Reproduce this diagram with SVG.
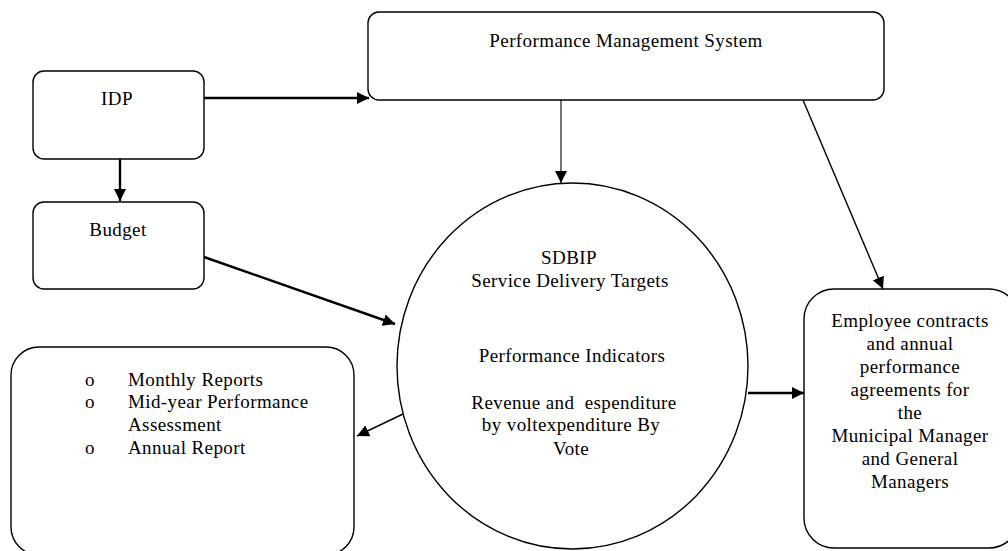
<svg xmlns="http://www.w3.org/2000/svg" width="1008" height="551" viewBox="0 0 1008 551">
<defs>
<style>
.box{fill:#fff;stroke:#000;stroke-width:1.4}
.t{font-family:"Liberation Serif","Times New Roman",serif;font-size:19px;letter-spacing:0.4px;fill:#000}
.c{text-anchor:middle}
.thick{stroke:#000;stroke-width:2.4;fill:none}
.mid{stroke:#000;stroke-width:1.4;fill:none}
.thin{stroke:#000;stroke-width:1.1;fill:none}
</style>
<marker id="ah" viewBox="0 0 12 12" refX="12" refY="6" markerWidth="12" markerHeight="12" orient="auto" markerUnits="userSpaceOnUse"><path d="M0,0 L12,6 L0,12 z" fill="#000"/></marker>
</defs>
<rect width="1008" height="551" fill="#fff"/>
<g id="pms"><rect class="box" x="368" y="12" width="516" height="88" rx="11"/><text class="t c" x="626" y="47">Performance Management System</text></g>
<g id="idp"><rect class="box" x="33" y="71" width="171" height="88" rx="11"/><text class="t c" x="117" y="105">IDP</text></g>
<g id="budget"><rect class="box" x="33" y="202" width="171" height="87" rx="11"/><text class="t c" x="118" y="236">Budget</text></g>
<g id="sdbip"><ellipse class="box" cx="572.5" cy="366" rx="175.5" ry="183"/>
<text class="t c" x="569" y="264">SDBIP</text>
<text class="t c" x="570" y="287">Service Delivery Targets</text>
<text class="t c" x="572" y="362">Performance Indicators</text>
<text class="t c" x="574" y="409" xml:space="preserve">Revenue and  espenditure</text>
<text class="t c" x="571" y="431">by voltexpenditure By</text>
<text class="t c" x="571" y="455">Vote</text></g>
<g id="reports"><rect class="box" x="11" y="347" width="343" height="208" rx="28"/>
<text class="t" x="85" y="386">o</text><text class="t" x="128" y="386">Monthly Reports</text>
<text class="t" x="85" y="408">o</text><text class="t" x="128" y="408">Mid-year Performance</text>
<text class="t" x="128" y="431">Assessment</text>
<text class="t" x="85" y="454">o</text><text class="t" x="128" y="454">Annual Report</text></g>
<g id="employee"><rect class="box" x="804" y="289" width="215" height="259" rx="30"/>
<text class="t c" x="910" y="327">Employee contracts</text>
<text class="t c" x="910" y="350">and annual</text>
<text class="t c" x="910" y="373">performance</text>
<text class="t c" x="910" y="396">agreements for</text>
<text class="t c" x="910" y="419">the</text>
<text class="t c" x="910" y="442">Municipal Manager</text>
<text class="t c" x="910" y="465">and General</text>
<text class="t c" x="910" y="488">Managers</text></g>
<g id="connectors">
<line class="thick" x1="120" y1="159" x2="120" y2="201" marker-end="url(#ah)"/>
<line class="thick" x1="204" y1="98" x2="369" y2="98" marker-end="url(#ah)"/>
<line class="thin" x1="561" y1="100" x2="561" y2="183" marker-end="url(#ah)"/>
<line class="mid" x1="803" y1="100" x2="883" y2="289" marker-end="url(#ah)"/>
<line class="thick" x1="204" y1="257" x2="395" y2="324" marker-end="url(#ah)"/>
<line class="mid" x1="403" y1="414" x2="357" y2="436" marker-end="url(#ah)"/>
<line class="thick" x1="748" y1="393" x2="804" y2="393" marker-end="url(#ah)"/>
</g>
</svg>
